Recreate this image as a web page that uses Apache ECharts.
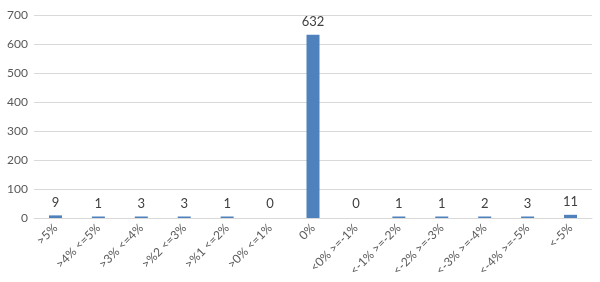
<!DOCTYPE html>
<html><head><meta charset="utf-8">
<script src="https://cdn.jsdelivr.net/npm/echarts@6/dist/echarts.min.js"></script>
<style>html,body{margin:0;padding:0;background:#fff}#c{width:600px;height:282px}</style>
</head><body><div id="c"></div>
<script>
const categories = [">5%", ">4% <=5%", ">3% <=4%", ">%2 <=3%", ">%1 <=2%", ">0% <=1%", "0%", "<0% >=-1%", "<-1% >=-2%", "<-2% >=-3%", "<-3% >=-4%", "<-4% >=-5%", "<-5%"];
const values = [9, 1, 3, 3, 1, 0, 632, 0, 1, 1, 2, 3, 11];
const yTicks = [0, 100, 200, 300, 400, 500, 600, 700];
const font = "Lato, 'Open Sans', sans-serif";
const chart = echarts.init(document.getElementById('c'), null, {renderer: 'canvas'});
chart.setOption({
  animation: false,
  grid: {left: 34, right: 8, top: 15, bottom: 64, containLabel: false},
  xAxis: {
    type: 'category', data: categories,
    axisLine: {lineStyle: {color: '#d9d9d9'}},
    axisTick: {show: false},
    axisLabel: {rotate: 45, color: '#595959', fontSize: 12, fontFamily: font, interval: 0, margin: 8}
  },
  yAxis: {
    type: 'value', min: yTicks[0], max: yTicks[yTicks.length - 1], interval: 100,
    axisLine: {show: false}, axisTick: {show: false},
    splitLine: {lineStyle: {color: '#d9d9d9'}},
    axisLabel: {color: '#595959', fontSize: 12, fontFamily: font, margin: 6}
  },
  series: [{
    type: 'bar', barWidth: 13, barMinHeight: 1.5,
    data: values.map(v => v === 0 ? {value: v, itemStyle: {opacity: 0}} : v),
    itemStyle: {color: '#4f81bd'},
    label: {show: true, position: 'top', color: '#404040', fontSize: 13, fontFamily: font, distance: 6, opacity: 1}
  }]
});
</script></body></html>
